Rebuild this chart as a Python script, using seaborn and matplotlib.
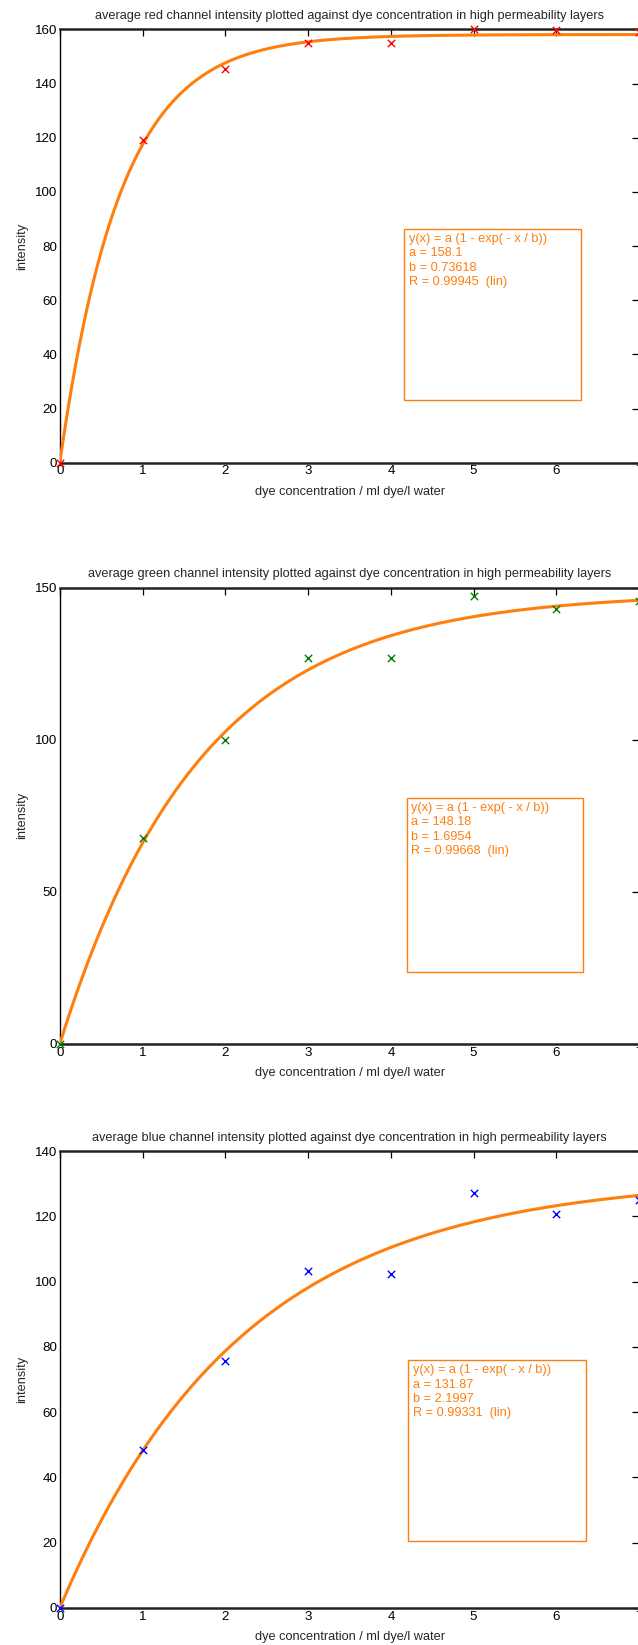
import numpy as np
import pandas as pd
import matplotlib
matplotlib.use("Agg")
import matplotlib.pyplot as plt
from matplotlib.patches import Rectangle
import seaborn as sns

sns.set_theme(style="white")
plt.rcParams['font.family'] = ['Liberation Sans', 'DejaVu Sans']

# ---- data ----
conc = [0, 1, 2, 3, 4, 5, 6, 7]
red_vals = [0, 119.3, 145.3, 155.0, 155.0, 160.0, 159.6, 159.0]
green_vals = [0, 67.6, 100.0, 126.9, 126.9, 147.2, 142.8, 145.5]
blue_vals = [0, 48.4, 75.7, 103.1, 102.4, 127.1, 120.7, 125.0]

fit_a = [158.1, 148.18, 131.87]
fit_b = [0.73618, 1.6954, 2.1997]
fit_R = ["0.99945", "0.99668", "0.99331"]
fit_a_txt = ["158.1", "148.18", "131.87"]
fit_b_txt = ["0.73618", "1.6954", "2.1997"]

titles = [
    "average red channel intensity plotted against dye concentration in high permeability layers",
    "average green channel intensity plotted against dye concentration in high permeability layers",
    "average blue channel intensity plotted against dye concentration in high permeability layers",
]
ymax = [160, 150, 140]
yticks = [list(range(0, 161, 20)), [0, 50, 100, 150], list(range(0, 141, 20))]
marker_colors = ["#ff0000", "#008000", "#0000ff"]
series = [red_vals, green_vals, blue_vals]
# annotation box extents (data coords): x0, x1, y0, y1
boxes = [(4.16, 6.30, 23.1, 86.3), (4.19, 6.32, 23.6, 80.8), (4.21, 6.36, 20.5, 75.9)]

fit_color = "#ff7f0e"
FS = 9.2

W, H = 638, 1645
fig = plt.figure(figsize=(W / 100, H / 100), dpi=100)

ax_px = [(29.4, 462.7), (587.5, 1043.9), (1151.0, 1608.0)]
left_px, right_px = 59.8, 639.2

for i in range(3):
    top, bot = ax_px[i]
    ax = fig.add_axes([left_px / W, 1 - bot / H, (right_px - left_px) / W, (bot - top) / H])
    xs = np.linspace(0, 7, 300)
    curve = pd.DataFrame({"x": xs, "y": fit_a[i] * (1 - np.exp(-xs / fit_b[i]))})
    sns.lineplot(data=curve, x="x", y="y", ax=ax, color=fit_color, lw=2.2, zorder=3)
    pts = pd.DataFrame({"x": conc, "y": series[i]})
    sns.scatterplot(data=pts, x="x", y="y", ax=ax, marker="x", color=marker_colors[i],
                    s=28, linewidth=1.0, zorder=4, clip_on=False)
    ax.set_xlim(0, 7)
    ax.set_ylim(0, ymax[i])
    ax.set_xticks(range(0, 8))
    ax.set_yticks(yticks[i])
    ax.tick_params(direction="in", length=5, width=0.9, top=True, right=True,
                   labelsize=9.6, pad=2, colors="black")
    for s in ["left", "right"]:
        ax.spines[s].set_linewidth(1.0)
        ax.spines[s].set_color("black")
    for s in ["top", "bottom"]:
        ax.spines[s].set_linewidth(1.8)
        ax.spines[s].set_color("#222222")
    ax.set_title(titles[i], fontsize=FS, pad=7.5)
    ax.set_xlabel("dye concentration / ml dye/l water", fontsize=FS, labelpad=6)
    ax.set_ylabel("intensity", fontsize=FS)
    ax.yaxis.set_label_coords(-(left_px - 28) / (right_px - left_px), 0.5)
    x0, x1, y0, y1 = boxes[i]
    ax.add_patch(Rectangle((x0, y0), x1 - x0, y1 - y0, fill=False, edgecolor=fit_color,
                           lw=1.0, zorder=2))
    txt = ("y(x) = a (1 - exp( - x / b))\n"
           f"a = {fit_a_txt[i]}\n"
           f"b = {fit_b_txt[i]}\n"
           f"R = {fit_R[i]}  (lin)")
    ax.annotate(txt, xy=(x0, y1), xytext=(3.5, -3), textcoords="offset points",
                ha="left", va="top", fontsize=FS, color=fit_color, linespacing=1.25)
    ax.grid(False)

fig.savefig("out.png", dpi=100)
